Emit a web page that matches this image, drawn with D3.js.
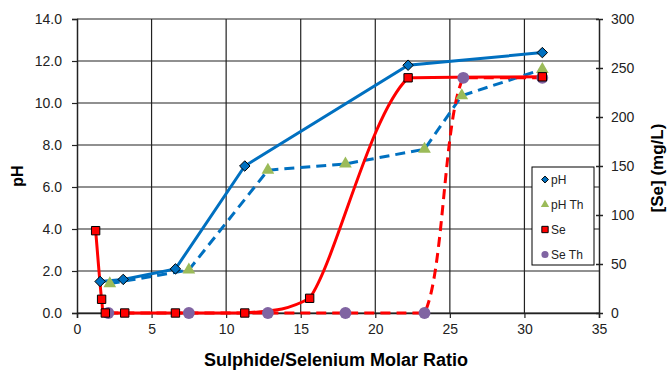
<!DOCTYPE html>
<html>
<head>
<meta charset="utf-8">
<script src="https://cdn.jsdelivr.net/npm/d3@7"></script>
<style>
  body { margin: 0; background: #fff; }
  svg { font-family: "Liberation Sans", Arial, sans-serif; }
</style>
</head>
<body>
<div id="chart"></div>
<script>
const width = 670;
const height = 371;

// ratio, value
const phData = [[1.55, 1.5], [3.1, 1.6], [6.6, 2.1], [11.25, 7.0], [22.2, 11.8], [31.2, 12.4]];
const phThData = [[2.2, 1.4], [7.5, 2.05], [12.8, 6.8], [18.0, 7.1], [23.3, 7.8], [25.8, 10.35], [31.2, 11.6]];
const seData = [[1.25, 84], [1.65, 14], [1.9, 0], [3.2, 0], [6.6, 0], [11.25, 0], [15.6, 15], [22.2, 240], [31.2, 241]];
const seThData = [[2.1, 0], [7.5, 0], [12.8, 0], [18.0, 0], [23.3, 0], [25.9, 240], [31.2, 240]];

const xTicks = [0, 5, 10, 15, 20, 25, 30, 35];
const yTicks = [0, 2, 4, 6, 8, 10, 12, 14];
const y2Ticks = [0, 50, 100, 150, 200, 250, 300];
const legendItems = ["pH", "pH Th", "Se", "Se Th"];

const margin = { top: 19, right: 71, bottom: 58, left: 77 };
const x = d3.scaleLinear().domain([0, 35]).range([margin.left, width - margin.right]);
const y = d3.scaleLinear().domain([0, 14]).range([height - margin.bottom, margin.top]);
const y2 = d3.scaleLinear().domain([0, 300]).range([height - margin.bottom, margin.top]);

const svg = d3.select("#chart")
  .append("svg")
  .attr("width", width)
  .attr("height", height);

// grid
svg.append("g").selectAll("line")
  .data(yTicks)
  .join("line")
  .attr("x1", x(0)).attr("x2", x(35))
  .attr("y1", d => y(d)).attr("y2", d => y(d))
  .attr("stroke", "#222").attr("stroke-width", 1.2);
svg.append("g").selectAll("line")
  .data(xTicks.slice(1, -1))
  .join("line")
  .attr("x1", d => x(d)).attr("x2", d => x(d))
  .attr("y1", y(0)).attr("y2", y(14))
  .attr("stroke", "#222").attr("stroke-width", 1.2);

// axes
const xAxis = svg.append("g")
  .attr("transform", `translate(0,${y(0)})`)
  .call(d3.axisBottom(x).tickValues(xTicks).tickSize(5).tickPadding(6));
const yAxis = svg.append("g")
  .attr("transform", `translate(${x(0)},0)`)
  .call(d3.axisLeft(y).tickValues(yTicks).tickSize(5).tickPadding(10).tickFormat(d3.format(".1f")));
const y2Axis = svg.append("g")
  .attr("transform", `translate(${x(35)},0)`)
  .call(d3.axisRight(y2).tickValues(y2Ticks).tickSize(0).tickPadding(12));

[xAxis, yAxis, y2Axis].forEach(g => {
  g.select(".domain").attr("stroke", "#222").attr("stroke-width", 1.5);
  g.selectAll(".tick line").attr("stroke", "#222").attr("stroke-width", 1.2);
  g.selectAll("text").attr("font-size", 14).attr("fill", "#222")
    .attr("font-family", "'Liberation Sans', Arial, sans-serif");
});
// right axis ticks cross the axis line
y2Axis.selectAll(".tick").append("line")
  .attr("x1", -3).attr("x2", 4)
  .attr("stroke", "#222").attr("stroke-width", 1.5);

// axis titles
svg.append("text")
  .attr("x", 336)
  .attr("y", 366)
  .attr("text-anchor", "middle")
  .attr("font-size", 18).attr("font-weight", "bold")
  .text("Sulphide/Selenium Molar Ratio");
svg.append("text")
  .attr("transform", "translate(23,176) rotate(-90)")
  .attr("text-anchor", "middle")
  .attr("font-size", 16).attr("font-weight", "bold")
  .text("pH");
svg.append("text")
  .attr("transform", "translate(663,168) rotate(-90)")
  .attr("text-anchor", "middle")
  .attr("font-size", 17).attr("font-weight", "bold")
  .text("[Se] (mg/L)");

const blue = "#0070C0";
const red = "#FF0000";
const green = "#9BBB59";
const purple = "#8064A2";

// smoothed line like the spreadsheet one: bezier per segment,
// control points kept inside each segment's box so it doesn't overshoot
function curveClamped(context) {
  let pts;
  return {
    areaStart() {}, areaEnd() {},
    lineStart() { pts = []; },
    point(px, py) { pts.push([+px, +py]); },
    lineEnd() {
      const n = pts.length;
      if (!n) return;
      context.moveTo(pts[0][0], pts[0][1]);
      for (let i = 0; i < n - 1; i++) {
        const p0 = pts[Math.max(i - 1, 0)], p1 = pts[i], p2 = pts[i + 1], p3 = pts[Math.min(i + 2, n - 1)];
        const f1 = i === 0 ? 1 / 3 : 1 / 6;
        const f2 = i + 2 > n - 1 ? 1 / 3 : 1 / 6;
        const clamp = (v, a, b) => Math.max(Math.min(a, b), Math.min(Math.max(a, b), v));
        const c1x = clamp(p1[0] + (p2[0] - p0[0]) * f1, p1[0], p2[0]);
        const c1y = clamp(p1[1] + (p2[1] - p0[1]) * f1, p1[1], p2[1]);
        const c2x = clamp(p2[0] - (p3[0] - p1[0]) * f2, p1[0], p2[0]);
        const c2y = clamp(p2[1] - (p3[1] - p1[1]) * f2, p1[1], p2[1]);
        context.bezierCurveTo(c1x, c1y, c2x, c2y, p2[0], p2[1]);
      }
    }
  };
}

const linePh = d3.line().x(d => x(d[0])).y(d => y(d[1]));
const lineSe = d3.line().x(d => x(d[0])).y(d => y2(d[1])).curve(curveClamped);

svg.append("path").datum(phThData)
  .attr("d", linePh).attr("fill", "none")
  .attr("stroke", blue).attr("stroke-width", 3).attr("stroke-dasharray", "10,6");
svg.append("path").datum(phData)
  .attr("d", linePh).attr("fill", "none")
  .attr("stroke", blue).attr("stroke-width", 3);
svg.append("path").datum(seThData)
  .attr("d", lineSe).attr("fill", "none")
  .attr("stroke", red).attr("stroke-width", 3).attr("stroke-dasharray", "10,6");
svg.append("path").datum(seData)
  .attr("d", lineSe).attr("fill", "none")
  .attr("stroke", red).attr("stroke-width", 3);

// markers
const diamond = d3.symbol().type(d3.symbolDiamond2).size(70);
const triangle = d3.symbol().type(d3.symbolTriangle).size(70);
const square = d3.symbol().type(d3.symbolSquare).size(70);
const circle = d3.symbol().type(d3.symbolCircle).size(110);

svg.append("g").selectAll("path")
  .data(phThData).join("path")
  .attr("d", triangle)
  .attr("transform", d => `translate(${x(d[0])},${y(d[1])})`)
  .attr("fill", green);
svg.append("g").selectAll("path")
  .data(phData).join("path")
  .attr("d", diamond)
  .attr("transform", d => `translate(${x(d[0])},${y(d[1])})`)
  .attr("fill", blue).attr("stroke", "#000").attr("stroke-width", 1);
svg.append("g").selectAll("path")
  .data(seThData).join("path")
  .attr("d", circle)
  .attr("transform", d => `translate(${x(d[0])},${y2(d[1])})`)
  .attr("fill", purple);
svg.append("g").selectAll("path")
  .data(seData).join("path")
  .attr("d", square)
  .attr("transform", d => `translate(${x(d[0])},${y2(d[1])})`)
  .attr("fill", red).attr("stroke", "#000").attr("stroke-width", 1);

// legend
const legend = svg.append("g").attr("transform", "translate(532,167)");
legend.append("rect")
  .attr("width", 62).attr("height", 98)
  .attr("fill", "#fff").attr("stroke", "#000").attr("stroke-width", 1);
const legendMarks = [
  { sym: d3.symbol().type(d3.symbolDiamond2).size(30), fill: blue, stroke: "#000" },
  { sym: d3.symbol().type(d3.symbolTriangle).size(30), fill: green, stroke: "none" },
  { sym: d3.symbol().type(d3.symbolSquare).size(40), fill: red, stroke: "#000" },
  { sym: d3.symbol().type(d3.symbolCircle).size(40), fill: purple, stroke: "none" }
];
const entry = legend.selectAll("g.entry")
  .data(legendItems).join("g")
  .attr("class", "entry")
  .attr("transform", (d, i) => `translate(0,${12.5 + i * 25})`);
entry.append("path")
  .attr("d", (d, i) => legendMarks[i].sym())
  .attr("transform", "translate(13,0)")
  .attr("fill", (d, i) => legendMarks[i].fill)
  .attr("stroke", (d, i) => legendMarks[i].stroke)
  .attr("stroke-width", 1);
entry.append("text")
  .attr("x", 19).attr("y", 4.5)
  .attr("font-size", 12).attr("fill", "#222")
  .text(d => d);
</script>
</body>
</html>
